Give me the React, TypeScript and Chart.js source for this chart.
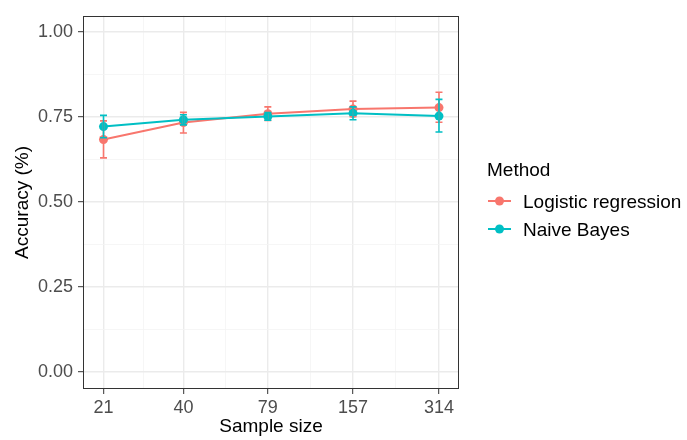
import React, { useEffect, useRef } from "react";
import { Chart, registerables } from "chart.js";

Chart.register(...registerables);

const sampleSizes = [21, 40, 79, 157, 314];
const yTickValues = [0, 0.25, 0.5, 0.75, 1];

const lrAcc = [0.684, 0.734, 0.760, 0.774, 0.778];
const lrLow = [0.630, 0.703, 0.740, 0.751, 0.735];
const lrHigh = [0.739, 0.764, 0.780, 0.797, 0.823];

const nbAcc = [0.722, 0.742, 0.752, 0.761, 0.753];
const nbLow = [0.689, 0.727, 0.741, 0.742, 0.706];
const nbHigh = [0.755, 0.757, 0.763, 0.780, 0.802];

const seriesNames = ["Logistic regression", "Naive Bayes"];
const legendTitle = "Method";
const xTitle = "Sample size";
const yTitle = "Accuracy (%)";

const RED = "#F8766D";
const TEAL = "#00BFC4";
const FONT = "'Liberation Sans', Arial, Helvetica, sans-serif";

export default function App() {
  const ref = useRef<HTMLCanvasElement>(null);

  useEffect(() => {
    if (!ref.current) return;

    const xTicks: { value: number; major: boolean }[] = [];
    sampleSizes.forEach((v, i) => {
      xTicks.push({ value: v, major: true });
      if (i < sampleSizes.length - 1) {
        xTicks.push({ value: Math.sqrt(v * sampleSizes[i + 1]), major: false });
      }
    });
    const yTicks: { value: number; major: boolean }[] = [];
    yTickValues.forEach((v, i) => {
      yTicks.push({ value: v, major: true });
      if (i < yTickValues.length - 1) {
        yTicks.push({ value: (v + yTickValues[i + 1]) / 2, major: false });
      }
    });

    const errorBars = [
      { low: lrLow, high: lrHigh, color: RED },
      { low: nbLow, high: nbHigh, color: TEAL },
    ];

    const extras = {
      id: "extras",
      afterDatasetsDraw(chart: any) {
        const { ctx, scales } = chart;
        const xs = scales.x;
        const ys = scales.y;
        ctx.save();
        errorBars.forEach((eb) => {
          ctx.strokeStyle = eb.color;
          ctx.lineWidth = 1.6;
          sampleSizes.forEach((s, i) => {
            const x = xs.getPixelForValue(s);
            const y1 = ys.getPixelForValue(eb.low[i]);
            const y2 = ys.getPixelForValue(eb.high[i]);
            ctx.beginPath();
            ctx.moveTo(x, y1);
            ctx.lineTo(x, y2);
            ctx.moveTo(x - 3.5, y1);
            ctx.lineTo(x + 3.5, y1);
            ctx.moveTo(x - 3.5, y2);
            ctx.lineTo(x + 3.5, y2);
            ctx.stroke();
          });
        });
        ctx.restore();
      },
      afterDraw(chart: any) {
        const { ctx, chartArea } = chart;
        ctx.save();
        ctx.strokeStyle = "#333333";
        ctx.lineWidth = 1;
        ctx.strokeRect(
          Math.round(chartArea.left) + 0.5,
          Math.round(chartArea.top) + 0.5,
          Math.round(chartArea.right - chartArea.left) - 1,
          Math.round(chartArea.bottom - chartArea.top) - 1
        );
        ctx.fillStyle = "#000000";
        ctx.textAlign = "left";
        ctx.textBaseline = "alphabetic";
        ctx.font = `19px ${FONT}`;
        ctx.fillText(legendTitle, 487, 176);
        const items = [
          { name: seriesNames[0], color: RED, y: 201 },
          { name: seriesNames[1], color: TEAL, y: 229 },
        ];
        items.forEach((it) => {
          ctx.strokeStyle = it.color;
          ctx.lineWidth = 2;
          ctx.beginPath();
          ctx.moveTo(488, it.y);
          ctx.lineTo(511, it.y);
          ctx.stroke();
          ctx.fillStyle = it.color;
          ctx.beginPath();
          ctx.arc(499.5, it.y, 4.5, 0, Math.PI * 2);
          ctx.fill();
          ctx.fillStyle = "#000000";
          ctx.fillText(it.name, 523, it.y + 6.8);
        });
        ctx.restore();
      },
    };

    const chart = new Chart(ref.current, {
      type: "line",
      data: {
        datasets: [
          {
            label: seriesNames[0],
            data: sampleSizes.map((s, i) => ({ x: s, y: lrAcc[i] })),
            borderColor: RED,
            backgroundColor: RED,
            pointBackgroundColor: RED,
            pointBorderWidth: 0,
            pointRadius: 4.5,
            borderWidth: 2,
            order: 1,
          },
          {
            label: seriesNames[1],
            data: sampleSizes.map((s, i) => ({ x: s, y: nbAcc[i] })),
            borderColor: TEAL,
            backgroundColor: TEAL,
            pointBackgroundColor: TEAL,
            pointBorderWidth: 0,
            pointRadius: 4.5,
            borderWidth: 2,
            order: 0,
          },
        ],
      },
      options: {
        responsive: true,
        maintainAspectRatio: false,
        animation: false,
        layout: { padding: { top: 13, right: 228, left: 0, bottom: 0 } },
        plugins: {
          legend: { display: false },
          tooltip: { enabled: false },
        },
        scales: {
          x: {
            type: "logarithmic",
            min: 17.8,
            max: 369,
            afterBuildTicks: (scale: any) => {
              scale.ticks = xTicks.map((t) => ({ value: t.value, major: t.major }));
            },
            afterFit: (scale: any) => {
              scale.height = 51;
            },
            ticks: {
              autoSkip: false,
              maxRotation: 0,
              padding: 3,
              color: "#4D4D4D",
              font: { family: FONT, size: 18 },
              callback: (_v: any, i: number) =>
                xTicks[i] && xTicks[i].major ? String(xTicks[i].value) : "",
            },
            grid: {
              color: (c: any) => (c.index % 2 === 0 ? "#EBEBEB" : "#F4F4F4"),
              lineWidth: (c: any) => (c.index % 2 === 0 ? 1.4 : 0.8),
              tickColor: (c: any) => (c.index % 2 === 0 ? "#333333" : "rgba(0,0,0,0)"),
              tickWidth: 1,
              tickLength: 5,
              drawTicks: true,
            },
            border: { display: false },
            title: {
              display: true,
              text: xTitle,
              color: "#000000",
              font: { family: FONT, size: 19 },
              padding: { top: 0, bottom: 2 },
            },
          },
          y: {
            type: "linear",
            min: -0.05,
            max: 1.048,
            afterBuildTicks: (scale: any) => {
              scale.ticks = yTicks.map((t) => ({ value: t.value, major: t.major }));
            },
            afterFit: (scale: any) => {
              scale.width = 83;
            },
            ticks: {
              autoSkip: false,
              padding: 5,
              color: "#4D4D4D",
              font: { family: FONT, size: 18 },
              callback: (_v: any, i: number) =>
                yTicks[i] && yTicks[i].major ? yTicks[i].value.toFixed(2) : "",
            },
            grid: {
              color: (c: any) => (c.index % 2 === 0 ? "#EBEBEB" : "#F4F4F4"),
              lineWidth: (c: any) => (c.index % 2 === 0 ? 1.4 : 0.8),
              tickColor: (c: any) => (c.index % 2 === 0 ? "#333333" : "rgba(0,0,0,0)"),
              tickWidth: 1,
              tickLength: 5,
              drawTicks: true,
            },
            border: { display: false },
            title: {
              display: true,
              text: yTitle,
              color: "#000000",
              font: { family: FONT, size: 19 },
              padding: { top: 11, bottom: 0 },
            },
          },
        },
      },
      plugins: [extras],
    } as any);

    return () => chart.destroy();
  }, []);

  return (
    <div
      style={{
        position: "fixed",
        left: 0,
        top: 0,
        width: 687,
        height: 440,
        background: "#ffffff",
      }}
    >
      <canvas ref={ref} />
    </div>
  );
}
